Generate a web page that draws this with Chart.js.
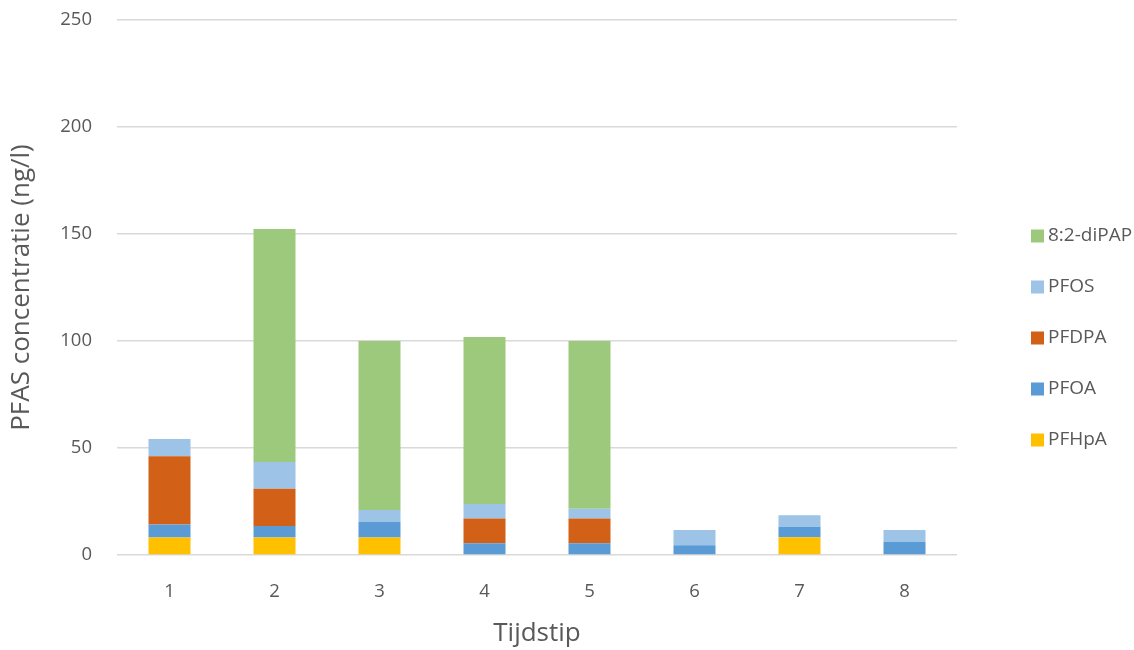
<!DOCTYPE html>
<html>
<head>
<meta charset="utf-8">
<script src="https://cdn.jsdelivr.net/npm/chart.js@4"></script>
<style>
  html, body { margin: 0; padding: 0; background: #ffffff; }
  #wrap { width: 1134px; height: 650px; position: relative; }
</style>
</head>
<body>
<div id="wrap"><canvas id="c" width="1134" height="650"></canvas></div>
<script>
// Sampling moments
const tijdstippen = ['1', '2', '3', '4', '5', '6', '7', '8'];

// Concentrations per compound (ng/l), stacked bottom to top
const pfhpa   = [8.2, 8.2, 8.2, 0,    0,    0,   8.3, 0];
const pfoa    = [6.0, 5.4, 7.2, 5.5,  5.5,  4.5, 4.9, 6.1];
const pfdpa   = [32.0, 17.4, 0, 11.5, 11.5, 0,   0,   0];
const pfos    = [8.0, 12.5, 5.6, 6.8, 4.6,  7.2, 5.4, 5.6];
const dipap   = [0, 108.8, 79.0, 78.1, 78.4, 0,  0,   0];

const yTicks = [0, 50, 100, 150, 200, 250];

const textColor = '#595959';
const fontFamily = '"Open Sans", "Noto Sans", sans-serif';

// Legend drawn on the right, top entry = top of stack
const legendPlugin = {
  id: 'sideLegend',
  afterDraw(chart) {
    const ctx = chart.ctx;
    const items = chart.data.datasets.slice().reverse();
    const x0 = 1031, y0 = 236, step = 51, box = 13;
    ctx.save();
    ctx.font = '19px ' + fontFamily;
    ctx.textBaseline = 'middle';
    ctx.textAlign = 'left';
    items.forEach((ds, i) => {
      const y = y0 + i * step;
      ctx.fillStyle = ds.backgroundColor;
      ctx.fillRect(x0, y - box / 2, box, box);
      ctx.fillStyle = textColor;
      ctx.fillText(ds.label, x0 + box + 4, y);
    });
    ctx.restore();
  }
};

new Chart(document.getElementById('c'), {
  type: 'bar',
  data: {
    labels: tijdstippen,
    datasets: [
      { label: 'PFHpA',     data: pfhpa, backgroundColor: '#FFC000' },
      { label: 'PFOA',      data: pfoa,  backgroundColor: '#5B9BD5' },
      { label: 'PFDPA',     data: pfdpa, backgroundColor: '#D26016' },
      { label: 'PFOS',      data: pfos,  backgroundColor: '#9DC3E6' },
      { label: '8:2-diPAP', data: dipap, backgroundColor: '#9CC97B' }
    ]
  },
  options: {
    responsive: false,
    animation: false,
    layout: { padding: { top: 20, right: 177, left: 0, bottom: 0 } },
    datasets: { bar: { categoryPercentage: 1.0, barPercentage: 0.4, borderWidth: 0 } },
    plugins: {
      legend: { display: false },
      tooltip: { enabled: false }
    },
    scales: {
      x: {
        stacked: true,
        grid: { display: false, drawTicks: false },
        border: { display: false },
        ticks: { color: textColor, font: { family: fontFamily, size: 18.5 }, padding: 26 },
        title: { display: true, text: 'Tijdstip', color: textColor,
                 font: { family: fontFamily, size: 26 }, padding: { top: 0, bottom: 1 } },
        afterFit(scale) {
          scale.height = 95;
          scale.paddingLeft = 0; scale.paddingRight = 0;
        }
      },
      y: {
        stacked: true,
        min: 0,
        max: 250,
        afterBuildTicks(scale) { scale.ticks = yTicks.map(v => ({ value: v })); },
        grid: { color: '#D9D9D9', lineWidth: 1.5, drawTicks: false },
        border: { display: false },
        ticks: { color: textColor, font: { family: fontFamily, size: 18.5 }, padding: 25 },
        title: { display: true, text: 'PFAS concentratie (ng/l)', color: textColor,
                 font: { family: fontFamily, size: 26 }, padding: { top: 6, bottom: 0 } },
        afterFit(scale) {
          scale.width = 117;
          scale.paddingTop = 0; scale.paddingBottom = 0;
        }
      }
    }
  },
  plugins: [legendPlugin]
});
</script>
</body>
</html>
